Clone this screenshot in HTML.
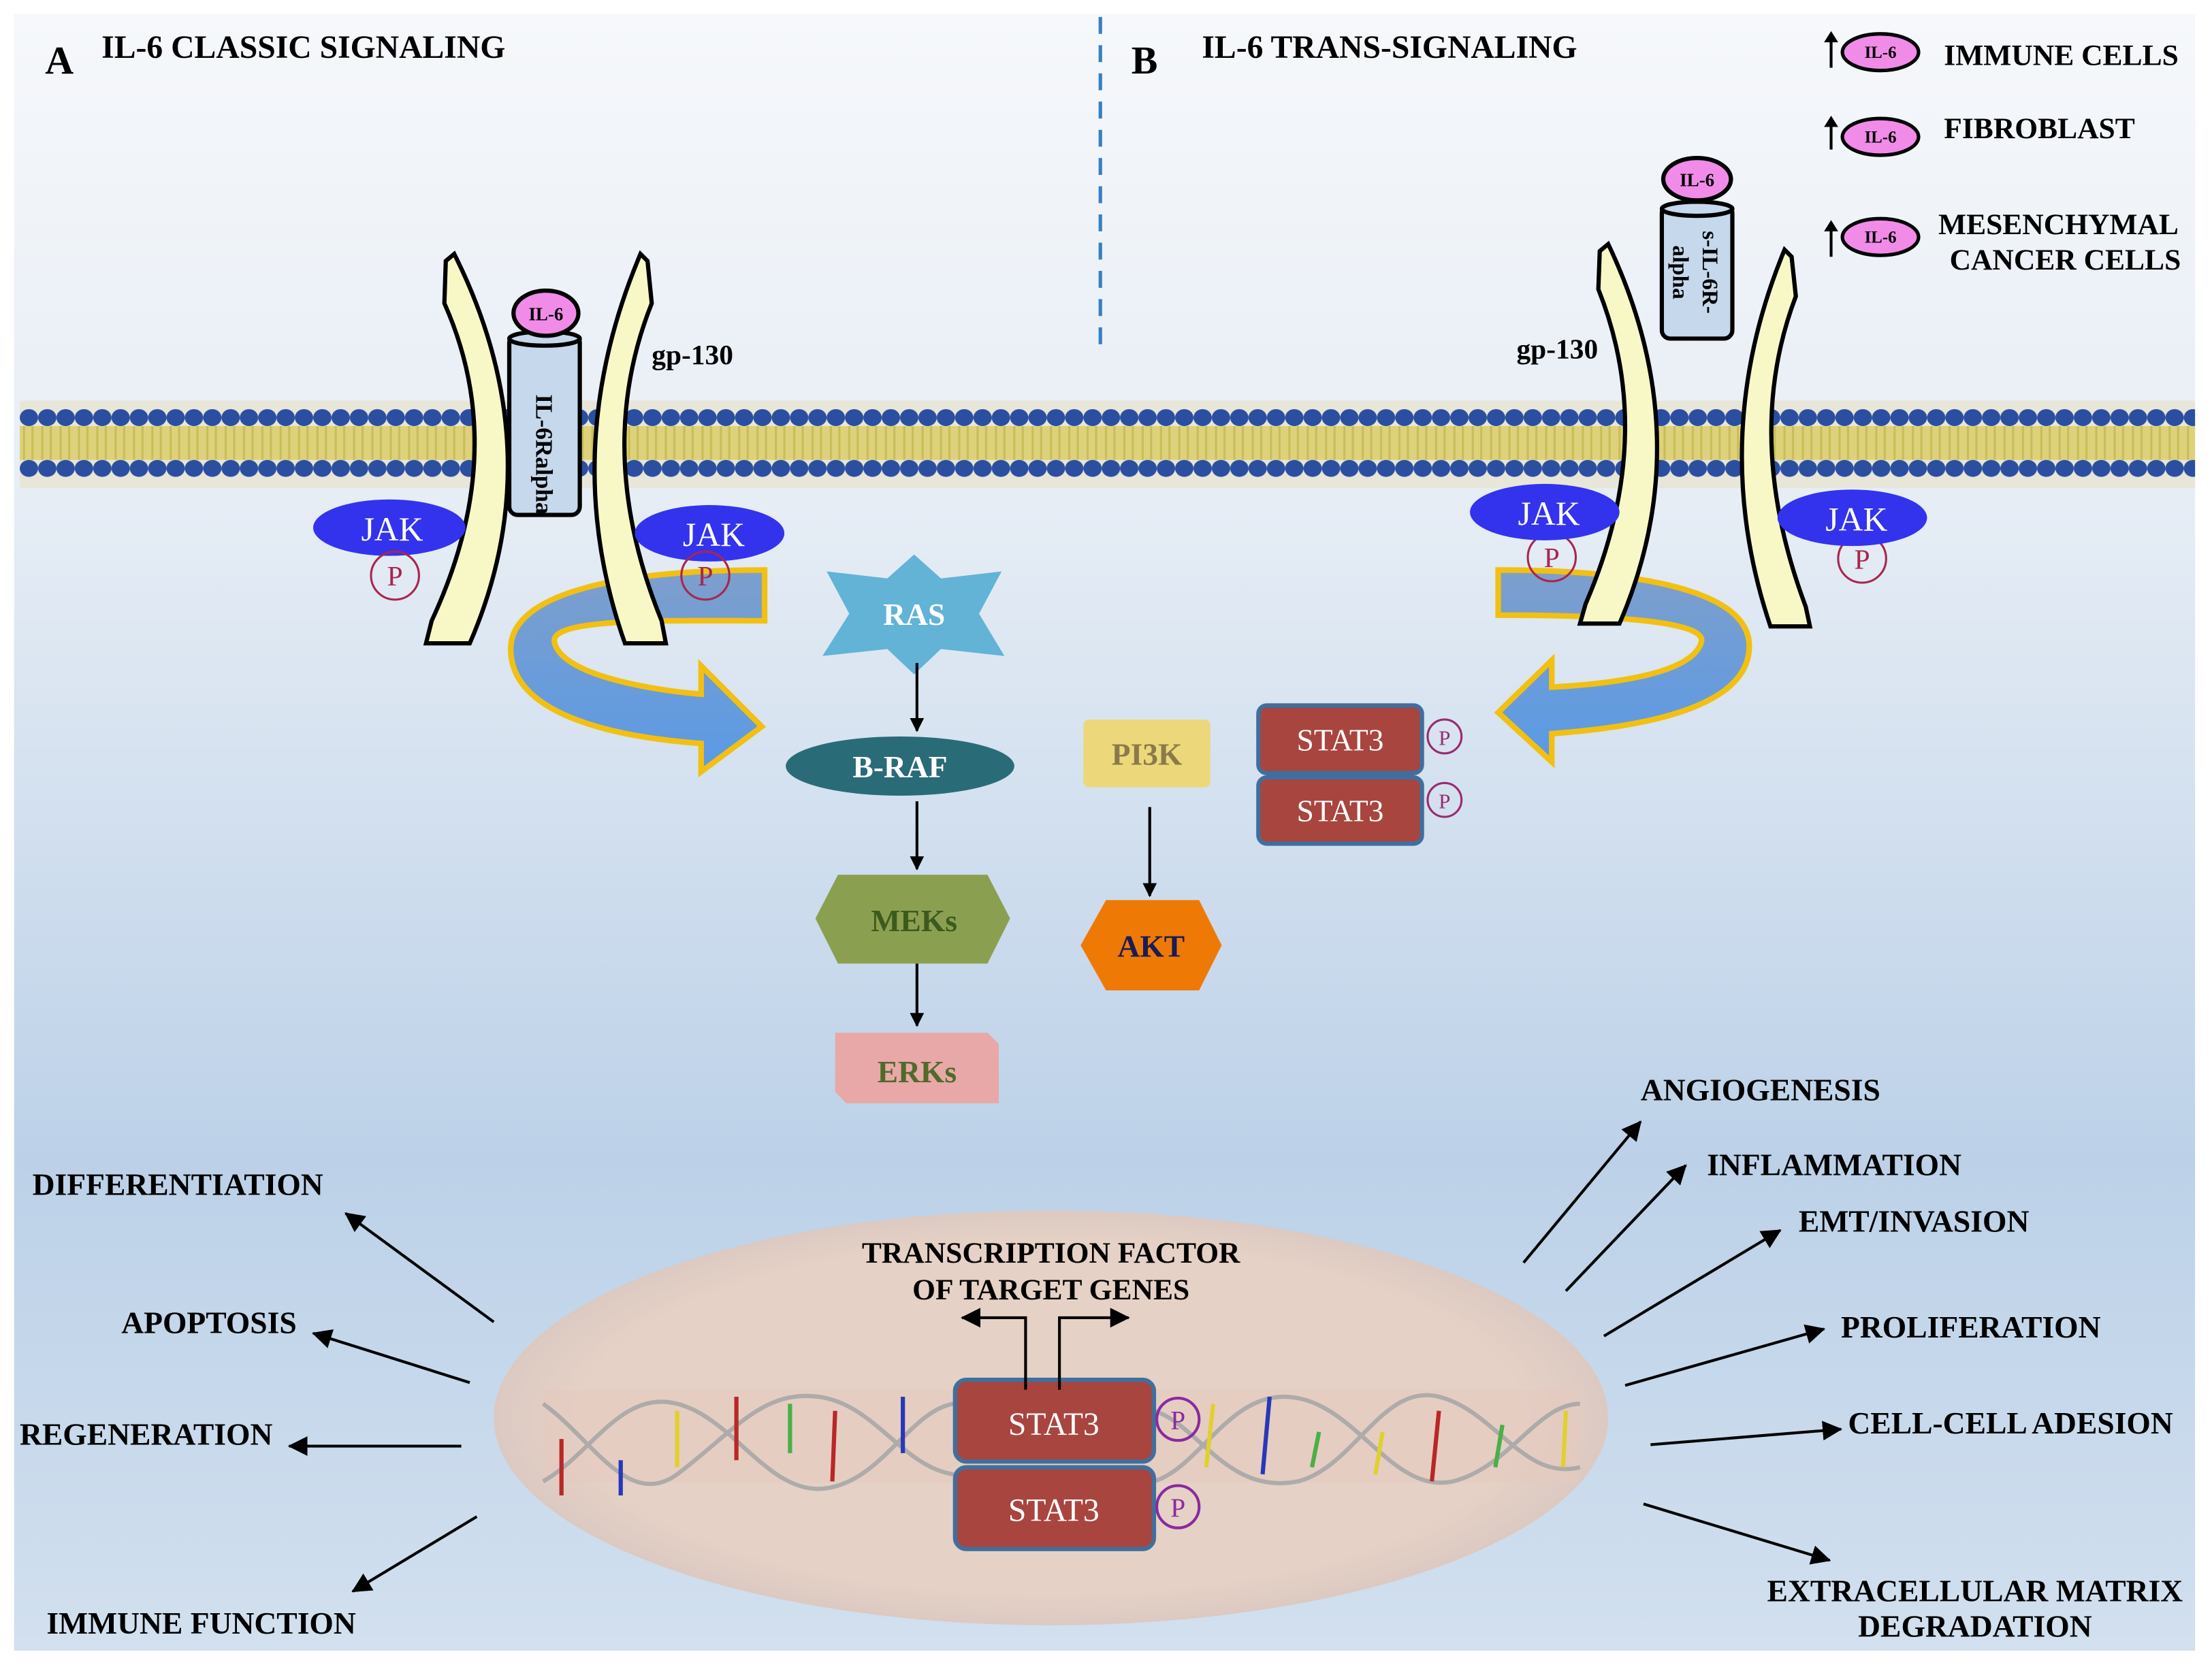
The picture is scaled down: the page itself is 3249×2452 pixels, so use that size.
<!DOCTYPE html>
<html><head><meta charset="utf-8"><style>
html,body{margin:0;padding:0;background:#fff}
svg{display:block}
text{font-family:"Liberation Serif",serif}
</style></head><body>
<svg width="3249" height="2452" viewBox="0 0 1568 1183" preserveAspectRatio="none" xmlns="http://www.w3.org/2000/svg">
<defs>
<linearGradient id="bg" x1="0" y1="0" x2="0" y2="1">
<stop offset="0" stop-color="#f6f8fb"/><stop offset="0.3" stop-color="#e6edf5"/><stop offset="0.7" stop-color="#bcd1e8"/><stop offset="1" stop-color="#d2e0ef"/>
</linearGradient>
<linearGradient id="arr" x1="0" y1="0" x2="0" y2="1">
<stop offset="0" stop-color="#7d9fcc"/><stop offset="1" stop-color="#5a9ae6"/>
</linearGradient>
<radialGradient id="nuc" cx="0.5" cy="0.5" r="0.5">
<stop offset="0.85" stop-color="#e5d1c5"/><stop offset="1" stop-color="#dcc9c2"/>
</radialGradient>
<pattern id="dots" width="13" height="62" patternUnits="userSpaceOnUse" x="14" y="284">
<rect width="13" height="62" fill="#e8e6d8"/>
<rect x="0" y="18" width="13" height="24" fill="#ddd27a"/>
<line x1="3" y1="18" x2="3" y2="42" stroke="#c8bd5a" stroke-width="1.5"/>
<line x1="9" y1="18" x2="9" y2="42" stroke="#c8bd5a" stroke-width="1.5"/>
<ellipse cx="6.5" cy="12" rx="6.5" ry="6" fill="#2b4ea0"/>
<ellipse cx="6.5" cy="48" rx="6.5" ry="6" fill="#2b4ea0"/>
</pattern>
<marker id="ah" markerWidth="10" markerHeight="10" refX="9" refY="5" orient="auto" markerUnits="userSpaceOnUse"><path d="M0,0 L10,5 L0,10 Z" fill="#000"/></marker>
<marker id="ah2" markerWidth="14" markerHeight="14" refX="13" refY="7" orient="auto" markerUnits="userSpaceOnUse"><path d="M0,0 L14,7 L0,14 Z" fill="#000"/></marker>
</defs>

<rect x="10" y="10" width="1546" height="1160" fill="url(#bg)"/>
<ellipse cx="745" cy="1005" rx="395" ry="147" fill="url(#nuc)"/>

<text x="32" y="52" font-size="28" font-weight="bold">A</text>
<text x="72" y="41" font-size="23" font-weight="bold">IL-6 CLASSIC SIGNALING</text>
<line x1="780" y1="12" x2="780" y2="248" stroke="#3a7fc0" stroke-width="2.5" stroke-dasharray="12,8"/>
<text x="802" y="52" font-size="28" font-weight="bold">B</text>
<text x="852" y="41" font-size="23" font-weight="bold">IL-6 TRANS-SIGNALING</text>

<g font-size="21" font-weight="bold">
<g stroke="#000" stroke-width="2"><line x1="1298" y1="48" x2="1298" y2="26"/><line x1="1298" y1="106" x2="1298" y2="86"/><line x1="1298" y1="182" x2="1298" y2="160"/></g>
<path d="M1293,30 L1298,22 L1303,30Z M1293,90 L1298,82 L1303,90Z M1293,164 L1298,156 L1303,164Z"/>
<g fill="#f08ce8" stroke="#000" stroke-width="2.5"><ellipse cx="1333" cy="37" rx="27" ry="13"/><ellipse cx="1333" cy="97" rx="27" ry="13"/><ellipse cx="1333" cy="168" rx="27" ry="13"/></g>
<g font-size="12" text-anchor="middle"><text x="1333" y="41">IL-6</text><text x="1333" y="101">IL-6</text><text x="1333" y="172">IL-6</text></g>
<text x="1378" y="46">IMMUNE CELLS</text>
<text x="1378" y="98">FIBROBLAST</text>
<text x="1374" y="166">MESENCHYMAL</text>
<text x="1382" y="191">CANCER CELLS</text>
</g>

<rect x="14" y="284" width="1542" height="62" fill="url(#dots)"/>

<path d="M542,404 L542,440 C470,440 390,438 393,455 C398,480 470,490 497,492 L497,472 L540,515 L497,547 L497,527 C430,522 362,505 362,460 C362,420 440,404 542,404 Z" fill="url(#arr)" stroke="#f2c012" stroke-width="4"/>
<path d="M1062,404 L1062,436 C1140,436 1210,440 1206,455 C1200,478 1140,485 1100,487 L1100,468 L1062,505 L1100,540 L1100,520 C1170,515 1240,500 1240,458 C1240,418 1160,404 1062,404 Z" fill="url(#arr)" stroke="#f2c012" stroke-width="4"/>

<path d="M316,185 L322,180 Q392,320 333,456 L302,456 L306,440 Q362,320 315,215 Z" fill="#f8f8c6" stroke="#000" stroke-width="3"/>
<path d="M459,185 L454,180 Q395,320 443,456 L472,456 L469,440 Q420,320 462,215 Z" fill="#f8f8c6" stroke="#000" stroke-width="3"/>
<rect x="361" y="237" width="50" height="128" rx="6" fill="#c5d8ec" stroke="#000" stroke-width="3"/>
<ellipse cx="386" cy="240" rx="25" ry="5" fill="#c5d8ec" stroke="#000" stroke-width="3"/>
<ellipse cx="387" cy="222" rx="23" ry="16" fill="#f08ce8" stroke="#000" stroke-width="3"/>
<text x="387" y="227" font-size="13" font-weight="bold" text-anchor="middle">IL-6</text>
<text x="0" y="0" font-size="17" font-weight="bold" text-anchor="middle" transform="translate(380,322) rotate(90)">IL-6Ralpha</text>
<text x="462" y="258" font-size="20" font-weight="bold">gp-130</text>
<ellipse cx="276" cy="374" rx="54" ry="20" fill="#3333ee"/>
<text x="278" y="383" font-size="24" fill="#fff" text-anchor="middle">JAK</text>
<ellipse cx="503" cy="378" rx="53" ry="20" fill="#3333ee"/>
<text x="506" y="387" font-size="24" fill="#fff" text-anchor="middle">JAK</text>
<g fill="none" stroke="#a8264f" stroke-width="1.5"><circle cx="280" cy="408" r="17"/><circle cx="500" cy="408" r="17"/><circle cx="1100" cy="395" r="17"/><circle cx="1320" cy="396" r="17"/></g>
<g font-size="20" fill="#a8264f" text-anchor="middle"><text x="280" y="415">P</text><text x="500" y="415">P</text><text x="1100" y="402">P</text><text x="1320" y="403">P</text></g>

<path d="M1134,178 L1140,173 Q1205,310 1148,442 L1120,442 L1124,428 Q1175,310 1133,205 Z" fill="#f8f8c6" stroke="#000" stroke-width="3"/>
<path d="M1270,182 L1265,177 Q1210,310 1255,444 L1283,444 L1280,430 Q1235,310 1273,210 Z" fill="#f8f8c6" stroke="#000" stroke-width="3"/>
<rect x="1178" y="145" width="50" height="95" rx="6" fill="#c5d8ec" stroke="#000" stroke-width="3"/>
<ellipse cx="1203" cy="148" rx="25" ry="5" fill="#c5d8ec" stroke="#000" stroke-width="3"/>
<ellipse cx="1203" cy="127" rx="24" ry="15" fill="#f08ce8" stroke="#000" stroke-width="3"/>
<text x="1203" y="132" font-size="13" font-weight="bold" text-anchor="middle">IL-6</text>
<g font-size="16" font-weight="bold" text-anchor="middle"><text transform="translate(1207,193) rotate(90)">s-IL-6R-</text><text transform="translate(1186,193) rotate(90)">alpha</text></g>
<text x="1075" y="254" font-size="20" font-weight="bold">gp-130</text>
<ellipse cx="1095" cy="363" rx="53" ry="20" fill="#3333ee"/>
<text x="1098" y="372" font-size="24" fill="#fff" text-anchor="middle">JAK</text>
<ellipse cx="1313" cy="367" rx="53" ry="20" fill="#3333ee"/>
<text x="1316" y="376" font-size="24" fill="#fff" text-anchor="middle">JAK</text>

<polygon points="648,393 667,410 710,405 694,435 712,465 667,460 648,478 629,460 583,465 602,435 586,405 629,410" fill="#62b3d6"/>
<text x="648" y="443" font-size="22" font-weight="bold" fill="#fff" text-anchor="middle">RAS</text>
<g stroke="#000" stroke-width="2" marker-end="url(#ah)"><line x1="650" y1="470" x2="650" y2="518"/><line x1="650" y1="568" x2="650" y2="616"/><line x1="650" y1="683" x2="650" y2="727"/><line x1="815" y1="572" x2="815" y2="635"/></g>
<ellipse cx="638" cy="543" rx="81" ry="21" fill="#2a6b78"/>
<text x="638" y="551" font-size="22" font-weight="bold" fill="#fff" text-anchor="middle">B-RAF</text>
<polygon points="594,620 700,620 716,651 700,683 594,683 578,651" fill="#8aa050"/>
<text x="648" y="660" font-size="22" font-weight="bold" fill="#3d5a1e" text-anchor="middle">MEKs</text>
<polygon points="592,732 700,732 708,740 708,782 600,782 592,774" fill="#e8a8a8"/>
<text x="650" y="767" font-size="22" font-weight="bold" fill="#4f6b2a" text-anchor="middle">ERKs</text>
<rect x="768" y="510" width="90" height="48" rx="4" fill="#ecd87a"/>
<text x="813" y="542" font-size="22" font-weight="bold" fill="#8a7a4a" text-anchor="middle">PI3K</text>
<polygon points="784,638 850,638 866,670 850,702 784,702 766,670" fill="#ee7a05"/>
<text x="816" y="678" font-size="22" font-weight="bold" fill="#1b1b55" text-anchor="middle">AKT</text>

<g fill="#a8453f" stroke="#3f6f9f" stroke-width="3"><rect x="892" y="500" width="116" height="48" rx="6"/><rect x="892" y="551" width="116" height="47" rx="6"/></g>
<g font-size="22" fill="#fff" text-anchor="middle"><text x="950" y="532">STAT3</text><text x="950" y="582">STAT3</text></g>
<g fill="none" stroke="#9a2a70" stroke-width="1.5"><circle cx="1024" cy="522" r="12"/><circle cx="1024" cy="567" r="12"/></g>
<g font-size="15" fill="#9a2a70" text-anchor="middle"><text x="1024" y="528">P</text><text x="1024" y="573">P</text></g>

<rect x="385" y="985" width="735" height="66" fill="#e6cac0" opacity="0.6"/>
<g fill="none" stroke="#a8a8a8" stroke-width="3" opacity="0.9">
<path d="M385,995 C420,1020 445,1070 480,1045 C520,1015 540,985 580,990 C620,995 640,1040 676,1045"/>
<path d="M385,1050 C420,1030 440,985 480,995 C520,1005 545,1060 585,1055 C625,1050 645,1000 676,995"/>
<path d="M818,1000 C850,1010 870,1060 920,1050 C960,1040 980,980 1020,990 C1060,1000 1080,1050 1120,1040"/>
<path d="M818,1050 C850,1040 870,990 910,990 C960,990 985,1060 1030,1050 C1070,1040 1090,995 1120,995"/>
</g>
<g stroke-width="3">
<line x1="398" y1="1020" x2="398" y2="1060" stroke="#b82828"/><line x1="440" y1="1035" x2="440" y2="1060" stroke="#2838b8"/>
<line x1="480" y1="1000" x2="480" y2="1040" stroke="#e0d030"/><line x1="522" y1="990" x2="522" y2="1035" stroke="#b82828"/>
<line x1="560" y1="995" x2="560" y2="1030" stroke="#48b048"/><line x1="592" y1="1000" x2="590" y2="1050" stroke="#b82828"/>
<line x1="640" y1="990" x2="640" y2="1030" stroke="#2838b8"/><line x1="860" y1="995" x2="855" y2="1040" stroke="#e0d030"/>
<line x1="900" y1="990" x2="895" y2="1045" stroke="#2838b8"/><line x1="935" y1="1015" x2="930" y2="1040" stroke="#48b048"/>
<line x1="980" y1="1015" x2="975" y2="1045" stroke="#e0d030"/><line x1="1020" y1="1000" x2="1015" y2="1050" stroke="#b82828"/>
<line x1="1065" y1="1010" x2="1060" y2="1040" stroke="#48b048"/><line x1="1110" y1="1000" x2="1108" y2="1040" stroke="#e0d030"/>
</g>

<g fill="#a8453f" stroke="#3f6f9f" stroke-width="3"><rect x="677" y="978" width="141" height="58" rx="8"/><rect x="677" y="1040" width="141" height="58" rx="8"/></g>
<g font-size="23" fill="#fff" text-anchor="middle"><text x="747" y="1017">STAT3</text><text x="747" y="1078">STAT3</text></g>
<g fill="none" stroke="#8a2aa0" stroke-width="2"><circle cx="835" cy="1006" r="15"/><circle cx="835" cy="1068" r="15"/></g>
<g font-size="19" fill="#8a2aa0" text-anchor="middle"><text x="835" y="1013">P</text><text x="835" y="1075">P</text></g>
<g font-size="21" font-weight="bold" text-anchor="middle"><text x="745" y="895">TRANSCRIPTION FACTOR</text><text x="745" y="921">OF TARGET GENES</text></g>
<path d="M727,985 L727,934 L682,934" fill="none" stroke="#000" stroke-width="2" marker-end="url(#ah2)"/>
<path d="M751,985 L751,934 L800,934" fill="none" stroke="#000" stroke-width="2" marker-end="url(#ah2)"/>

<g stroke="#000" stroke-width="2" marker-end="url(#ah2)">
<line x1="350" y1="937" x2="245" y2="860"/>
<line x1="333" y1="980" x2="222" y2="945"/>
<line x1="327" y1="1025" x2="205" y2="1025"/>
<line x1="338" y1="1075" x2="250" y2="1128"/>
<line x1="1080" y1="895" x2="1163" y2="795"/>
<line x1="1110" y1="915" x2="1195" y2="826"/>
<line x1="1137" y1="947" x2="1262" y2="872"/>
<line x1="1152" y1="982" x2="1293" y2="942"/>
<line x1="1170" y1="1024" x2="1305" y2="1013"/>
<line x1="1165" y1="1066" x2="1297" y2="1106"/>
</g>
<g font-size="22" font-weight="bold">
<text x="23" y="847">DIFFERENTIATION</text>
<text x="86" y="945">APOPTOSIS</text>
<text x="14" y="1024">REGENERATION</text>
<text x="33" y="1158">IMMUNE FUNCTION</text>
<text x="1163" y="780">ANGIOGENESIS</text>
<text x="1210" y="833">INFLAMMATION</text>
<text x="1275" y="873">EMT/INVASION</text>
<text x="1305" y="948">PROLIFERATION</text>
<text x="1310" y="1016">CELL-CELL ADESION</text>
<text x="1400" y="1135" text-anchor="middle">EXTRACELLULAR MATRIX</text>
<text x="1400" y="1160" text-anchor="middle">DEGRADATION</text>
</g>
</svg>
</body></html>
